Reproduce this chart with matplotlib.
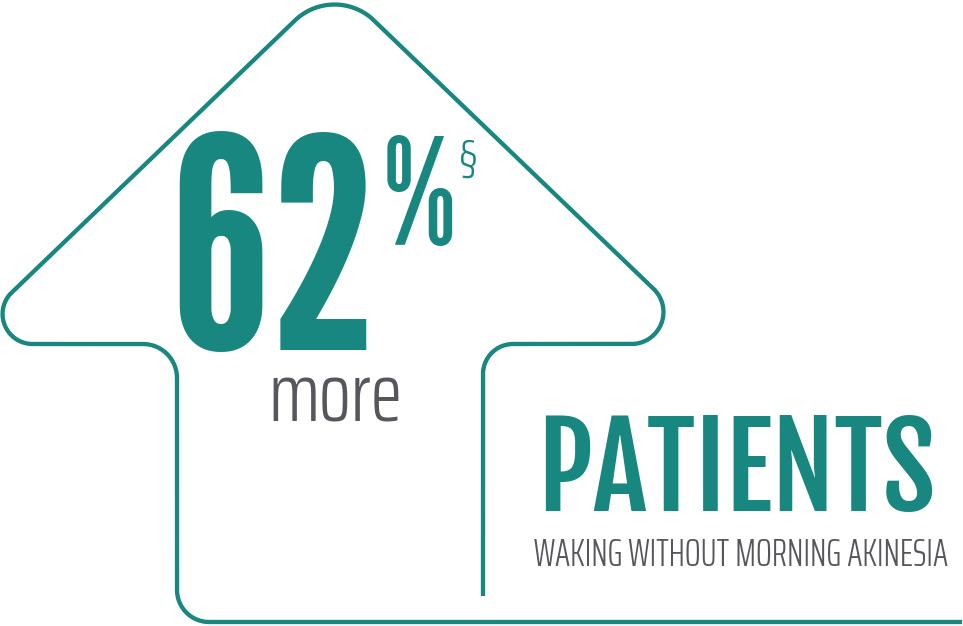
import matplotlib
matplotlib.use("Agg")
import matplotlib.pyplot as plt
import numpy as np

# the numbers / words on the graphic
value = 62
value_word = "more"
headline = "PATIENTS"
subline = "WAKING WITHOUT MORNING AKINESIA"

TEAL = "#17877f"
GREY = "#56575c"

# arrow outline (pixel space, y down): sharp corners + fillet radius per corner
outline_x = [483, 483, 711, 334.5, -42, 177, 177, 962]
outline_y = [596, 344, 344, -17.5, 344, 344, 622, 622]
outline_r = [0, 30, 32, 57, 30, 34, 32, 0]


def rounded(xs, ys, rs, n=30):
    pts = np.column_stack([xs, ys]).astype(float)
    out = [pts[0]]
    for i in range(1, len(pts) - 1):
        v, p, q = pts[i], pts[i - 1], pts[i + 1]
        u1 = (p - v) / np.linalg.norm(p - v)
        u2 = (q - v) / np.linalg.norm(q - v)
        half = np.arccos(np.clip(u1 @ u2, -1, 1)) / 2
        r = rs[i]
        t = r / np.tan(half)
        bis = (u1 + u2) / np.linalg.norm(u1 + u2)
        c = v + bis * r / np.sin(half)
        t1, t2 = v + u1 * t, v + u2 * t
        a1 = np.arctan2(*(t1 - c)[::-1])
        a2 = np.arctan2(*(t2 - c)[::-1])
        d = (a2 - a1 + np.pi) % (2 * np.pi) - np.pi
        a = np.linspace(a1, a1 + d, n)
        out.extend(np.column_stack([c[0] + r * np.cos(a), c[1] + r * np.sin(a)]))
    out.append(pts[-1])
    return np.array(out)


fig = plt.figure(figsize=(9.63, 6.26), dpi=100)
ax = fig.add_axes([0, 0, 1, 1])
ax.set_xlim(0, 963)
ax.set_ylim(626, 0)
ax.axis("off")

path = rounded(outline_x, outline_y, outline_r)
ax.plot(path[:, 0], path[:, 1], color=TEAL, lw=3.1, solid_capstyle="butt",
        solid_joinstyle="round")

bold = ["League Gothic", "Oswald", "Liberation Sans Narrow", "DejaVu Sans"]
head = ["Fjalla One", "League Gothic", "Liberation Sans Narrow", "DejaVu Sans"]
light = ["Saira ExtraCondensed", "Pathway Gothic One", "Liberation Sans Narrow",
         "DejaVu Sans"]

ax.text(170, 350, str(value), family=bold, fontsize=211, color=TEAL,
        ha="left", va="baseline")
ax.text(383, 245, "%", family=bold, fontsize=106, color=TEAL,
        ha="left", va="baseline")
ax.text(459, 171, "§", family=light, fontsize=32, fontweight=300, color=TEAL,
        ha="left", va="baseline")
ax.text(335, 422, value_word, family=light, fontsize=61, fontweight=300,
        color=GREY, ha="center", va="baseline")
ax.text(537, 511, headline, family=head, fontsize=83, color=TEAL,
        ha="left", va="baseline")
ax.text(534, 566, subline, family=light, fontsize=27, fontweight=300,
        color=GREY, ha="left", va="baseline")

fig.savefig("out.png", dpi=100)
